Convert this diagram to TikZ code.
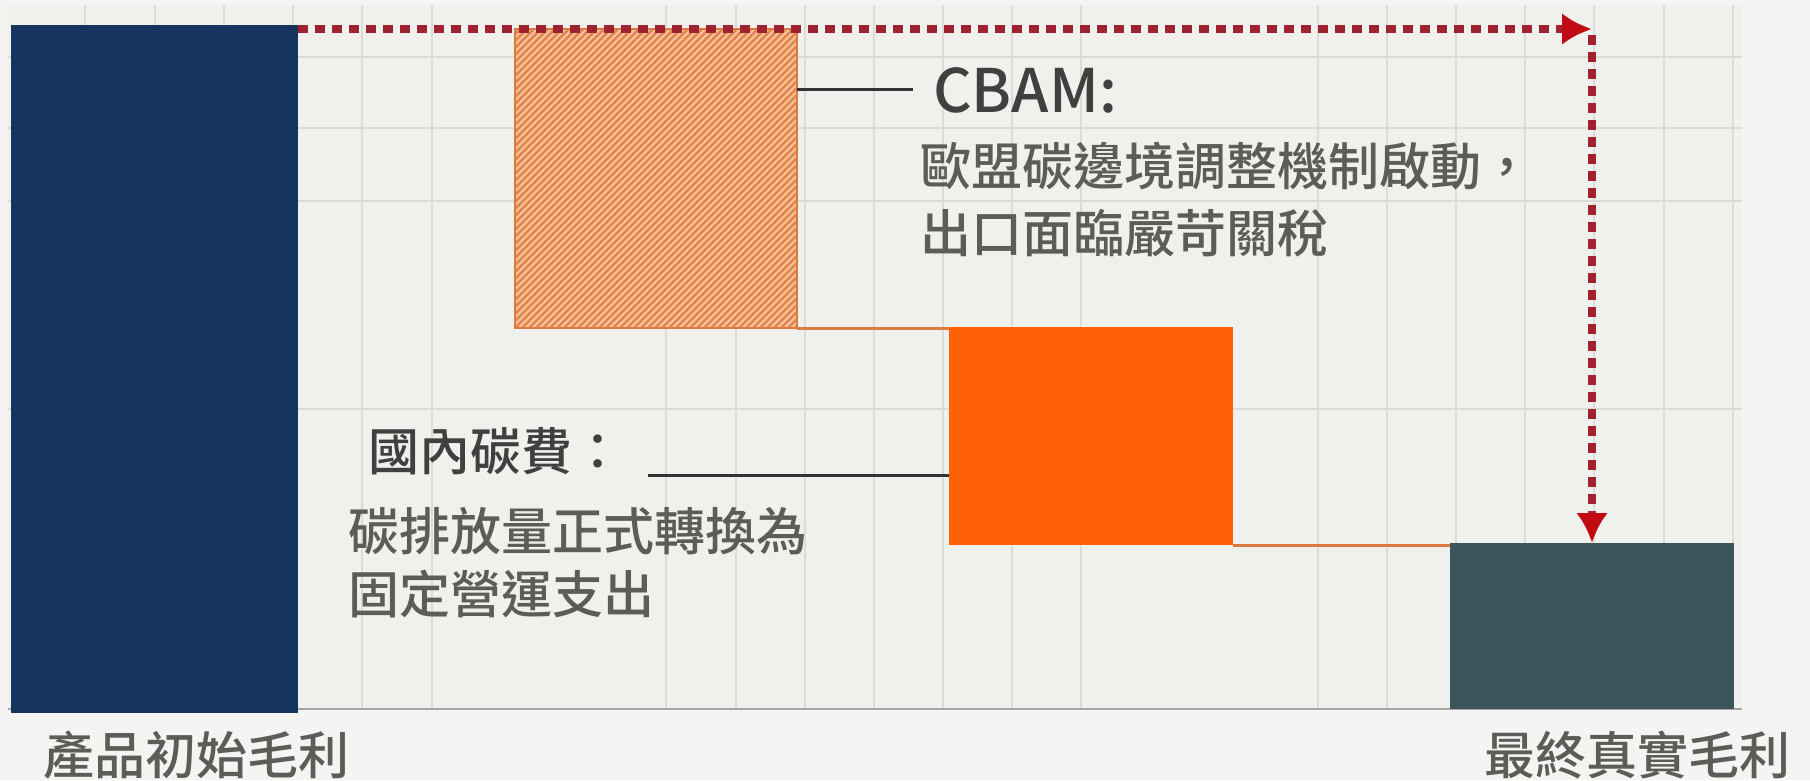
\documentclass[tikz,border=0pt]{standalone}
\usepackage{fontspec}
\setmainfont{Noto Sans CJK TC}[UprightFont=* Medium,BoldFont=* Bold]
\usetikzlibrary{arrows.meta}
\definecolor{pagebg}{HTML}{F4F4F3}
\definecolor{gridbg}{HTML}{F0F0EC}
\definecolor{gridline}{HTML}{DCDCD7}
\definecolor{navy}{HTML}{15355F}
\definecolor{hatchlight}{HTML}{F7C7A2}
\definecolor{hatchdark}{HTML}{E2854F}
\definecolor{hatchedge}{HTML}{DC7A42}
\definecolor{carbon}{HTML}{FF6206}
\definecolor{slate}{HTML}{3D545B}
\definecolor{dotred}{HTML}{9E2230}
\definecolor{tipred}{HTML}{C00A14}
\definecolor{textgray}{HTML}{5C5C58}
\definecolor{labelgray}{HTML}{404040}

\begin{document}
\begin{tikzpicture}[x=1pt,y=-1pt,
    bar/.style={rectangle,anchor=north west,inner sep=0pt,outer sep=0pt},
    bodytext/.style={anchor=base west,inner sep=0pt,text=textgray,font=\fontsize{51}{60}\selectfont},
    leader/.style={draw=black!80,line width=3pt},
    link/.style={draw=hatchedge,line width=3pt},
    flow/.style={draw=dotred,line width=8pt,dash pattern=on 10pt off 7pt,-{Latex[length=30pt,width=32pt,color=tipred]}}]
  \path[use as bounding box,fill=pagebg] (0,0) rectangle (1810,780);
  % grid paper
  \fill[gridbg] (8,5) rectangle (1742,709);
  \foreach \gx in {85,155,224,293,362,432,666,736,805,874,943,1012,1081,1318,1387,1456,1525,1594,1664,1733}
    \draw[gridline,line width=2pt] (\gx,5) -- (\gx,709);
  \foreach \gy in {57,128,201,409}
    \draw[gridline,line width=2pt] (8,\gy) -- (1742,\gy);
  \draw[black!35,line width=2pt] (8,709) -- (1742,709);
  % bars
  \node[bar,fill=navy,minimum width=287pt,minimum height=688pt] (init) at (11,25) {};
  \node[bar,fill=hatchlight,draw=hatchedge,line width=2.5pt,minimum width=282pt,minimum height=299pt,
    path picture={\foreach \k in {-301,-294,...,288}
      \draw[hatchdark,line width=2.6pt] ([xshift=\k pt]path picture bounding box.south west) -- ++(300,-300);}] (cbam) at (515,29) {};
  \node[bar,fill=carbon,minimum width=284pt,minimum height=218pt] (fee) at (949,327) {};
  \node[bar,fill=slate,minimum width=284pt,minimum height=166pt] (final) at (1450,543) {};
  \draw[link] (cbam.south east) -- (cbam.south east -| fee.west);
  \draw[link] (fee.south east) -- (fee.south east -| final.west);
  % dotted drop
  \coordinate (corner) at (final.north |- 0,29);
  \draw[flow] ([yshift=-4pt]init.north east) -- (corner);
  \draw[flow] ([yshift=-6pt]corner) -- (final.north);
  % labels
  \node[anchor=base west,inner sep=0pt,text=labelgray,font=\fontsize{60}{70}\selectfont] (cbamlabel) at (933,112) {CBAM:};
  \draw[leader] (cbamlabel.west -| cbam.east) -- ([xshift=-20pt]cbamlabel.west);
  \node[bodytext] (cbamline1) at (920,185) {歐盟碳邊境調整機制啟動，};
  \node[bodytext] (cbamline2) at (920,252) {出口面臨嚴苛關稅};
  \node[bodytext,text=labelgray] (domlabel) at (368,470) {國內碳費：};
  \coordinate (domtip) at ([xshift=25pt,yshift=-5pt]domlabel.base east);
  \draw[leader] (domtip) -- (domtip -| fee.west);
  \node[bodytext] (domline1) at (348,550) {碳排放量正式轉換為};
  \node[bodytext] (domline2) at (348,613) {固定營運支出};
  \node[bodytext] (initlabel) at (43,774) {產品初始毛利};
  \node[bodytext,anchor=base east] (finallabel) at (1791,774) {最終真實毛利};
\end{tikzpicture}
\end{document}
